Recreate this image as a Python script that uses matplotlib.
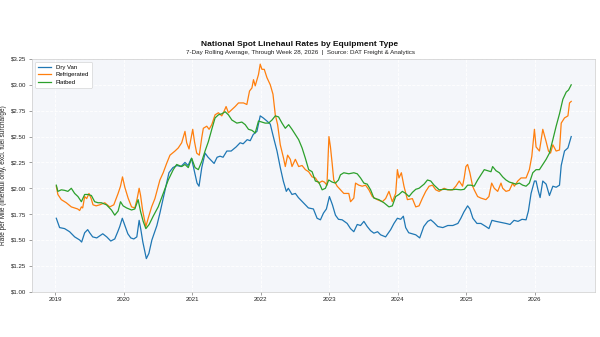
import numpy as np
import matplotlib
matplotlib.use("Agg")
import matplotlib.pyplot as plt

plt.rcParams['font.family'] = ['Liberation Sans', 'DejaVu Sans']

# ---- data (decimal-year offsets from 2019, $/mile) ----
van_t = [0.015, 0.063, 0.136, 0.209, 0.283, 0.356, 0.385, 0.429, 0.473, 0.502, 0.546, 0.605, 0.649, 0.693,
         0.751, 0.810, 0.868, 0.912, 0.941, 0.978, 1.015, 1.059, 1.102, 1.146, 1.190, 1.224, 1.249, 1.278,
         1.329, 1.366, 1.410, 1.483, 1.527, 1.571, 1.615, 1.659, 1.717, 1.776, 1.835, 1.893, 1.937, 1.988,
         2.025, 2.069, 2.098, 2.138, 2.186, 2.230, 2.274, 2.318, 2.362, 2.405, 2.449, 2.504, 2.567, 2.640,
         2.698, 2.742, 2.801, 2.845, 2.889, 2.943, 2.991, 3.035, 3.089, 3.138, 3.182, 3.236, 3.284, 3.328,
         3.372, 3.401, 3.455, 3.504, 3.548, 3.621, 3.694, 3.767, 3.821, 3.870, 3.914, 3.957, 4.001, 4.045,
         4.089, 4.133, 4.187, 4.260, 4.309, 4.357, 4.407, 4.455, 4.504, 4.553, 4.602, 4.650, 4.704, 4.748,
         4.821, 4.895, 4.943, 4.993, 5.041, 5.080, 5.114, 5.158, 5.261, 5.319, 5.378, 5.436, 5.480, 5.524,
         5.583, 5.656, 5.729, 5.802, 5.876, 5.919, 5.963, 6.018, 6.051, 6.095, 6.154, 6.212, 6.285, 6.329,
         6.373, 6.432, 6.505, 6.578, 6.637, 6.695, 6.754, 6.812, 6.871, 6.905, 6.944, 6.993, 7.017, 7.047,
         7.076, 7.115, 7.164, 7.212, 7.262, 7.310, 7.359, 7.384, 7.432, 7.482, 7.508, 7.530]
van_v = [1.71, 1.62, 1.61, 1.58, 1.53, 1.50, 1.48, 1.57, 1.60, 1.57, 1.53, 1.52, 1.54, 1.56,
         1.53, 1.49, 1.51, 1.58, 1.63, 1.71, 1.64, 1.56, 1.52, 1.51, 1.53, 1.69, 1.60, 1.48,
         1.32, 1.37, 1.50, 1.64, 1.76, 1.89, 2.02, 2.15, 2.20, 2.22, 2.21, 2.25, 2.22, 2.29,
         2.18, 2.05, 2.02, 2.20, 2.34, 2.30, 2.27, 2.24, 2.30, 2.31, 2.30, 2.36, 2.36, 2.40,
         2.44, 2.43, 2.47, 2.46, 2.52, 2.55, 2.70, 2.68, 2.65, 2.62, 2.50, 2.36, 2.20, 2.07,
         1.97, 2.00, 1.94, 1.95, 1.91, 1.86, 1.81, 1.80, 1.71, 1.695, 1.76, 1.80, 1.92, 1.84,
         1.74, 1.70, 1.695, 1.66, 1.61, 1.58, 1.65, 1.64, 1.68, 1.63, 1.59, 1.566, 1.58, 1.55,
         1.53, 1.60, 1.66, 1.71, 1.70, 1.73, 1.62, 1.57, 1.55, 1.52, 1.63, 1.68, 1.695, 1.67,
         1.63, 1.62, 1.64, 1.64, 1.66, 1.71, 1.77, 1.83, 1.80, 1.71, 1.66, 1.66, 1.63, 1.61,
         1.69, 1.68, 1.67, 1.66, 1.65, 1.69, 1.68, 1.70, 1.695, 1.78, 1.95, 2.07, 2.07, 1.98,
         1.91, 2.07, 2.04, 1.93, 2.02, 2.01, 2.03, 2.22, 2.36, 2.39, 2.45, 2.50]

reefer_t = [0.015, 0.038, 0.088, 0.161, 0.234, 0.283, 0.327, 0.356, 0.381, 0.400, 0.429, 0.458, 0.492,
            0.524, 0.551, 0.597, 0.649, 0.722, 0.795, 0.854, 0.917, 0.952, 0.981, 1.015, 1.063, 1.113,
            1.161, 1.195, 1.224, 1.245, 1.274, 1.322, 1.356, 1.406, 1.454, 1.502, 1.527, 1.575, 1.625,
            1.674, 1.747, 1.795, 1.845, 1.893, 1.918, 1.952, 2.006, 2.032, 2.064, 2.102, 2.138, 2.161,
            2.211, 2.245, 2.284, 2.332, 2.381, 2.430, 2.454, 2.493, 2.527, 2.577, 2.625, 2.674, 2.747,
            2.796, 2.835, 2.870, 2.893, 2.918, 2.966, 2.991, 3.016, 3.050, 3.089, 3.138, 3.177, 3.211,
            3.245, 3.284, 3.332, 3.357, 3.391, 3.430, 3.455, 3.504, 3.552, 3.602, 3.650, 3.698, 3.748,
            3.796, 3.845, 3.895, 3.928, 3.965, 3.994, 4.016, 4.041, 4.064, 4.114, 4.162, 4.211, 4.284,
            4.309, 4.357, 4.382, 4.430, 4.480, 4.529, 4.577, 4.627, 4.700, 4.773, 4.821, 4.870, 4.919,
            4.968, 4.993, 5.016, 5.051, 5.089, 5.139, 5.212, 5.261, 5.309, 5.359, 5.407, 5.456, 5.505,
            5.553, 5.602, 5.675, 5.725, 5.798, 5.846, 5.895, 5.944, 5.968, 5.993, 6.018, 6.051, 6.091,
            6.114, 6.164, 6.212, 6.285, 6.329, 6.369, 6.407, 6.457, 6.505, 6.530, 6.578, 6.627, 6.676,
            6.700, 6.750, 6.798, 6.871, 6.919, 6.955, 6.993, 7.017, 7.066, 7.115, 7.164, 7.198, 7.228,
            7.262, 7.310, 7.359, 7.384, 7.432, 7.482, 7.505, 7.530]
reefer_v = [2.02, 1.94, 1.89, 1.86, 1.82, 1.81, 1.80, 1.785, 1.82, 1.81, 1.92, 1.90, 1.95,
            1.90, 1.84, 1.83, 1.84, 1.86, 1.82, 1.84, 1.95, 2.02, 2.11, 2.01, 1.905, 1.82,
            1.81, 1.90, 2.00, 1.93, 1.79, 1.63, 1.71, 1.82, 1.90, 2.02, 2.08, 2.15, 2.24,
            2.32, 2.36, 2.39, 2.44, 2.55, 2.44, 2.38, 2.57, 2.45, 2.34, 2.32, 2.49, 2.58,
            2.60, 2.57, 2.615, 2.71, 2.73, 2.70, 2.73, 2.79, 2.73, 2.76, 2.79, 2.825, 2.825,
            2.81, 2.94, 2.97, 3.05, 2.99, 3.10, 3.20, 3.15, 3.15, 3.07, 3.00, 2.91, 2.71,
            2.615, 2.42, 2.29, 2.21, 2.32, 2.28, 2.21, 2.28, 2.21, 2.22, 2.18, 2.16, 2.11,
            2.10, 2.05, 2.07, 2.06, 2.03, 2.50, 2.40, 2.24, 2.08, 2.02, 1.985, 1.95, 1.95,
            1.87, 1.905, 2.05, 2.03, 2.02, 2.03, 1.985, 1.92, 1.89, 1.87, 1.90, 1.97, 1.87,
            1.95, 2.18, 2.10, 2.15, 2.02, 1.89, 1.90, 1.82, 1.83, 1.905, 1.97, 2.02, 2.03,
            1.985, 1.97, 2.00, 1.985, 1.985, 2.02, 2.07, 2.02, 2.10, 2.21, 2.23, 2.15, 2.02,
            1.985, 1.92, 1.905, 1.89, 1.92, 2.05, 2.00, 1.97, 2.05, 2.00, 1.97, 1.98, 2.05,
            2.02, 2.07, 2.10, 2.10, 2.18, 2.31, 2.57, 2.40, 2.36, 2.57, 2.45, 2.36, 2.34,
            2.42, 2.36, 2.37, 2.63, 2.68, 2.70, 2.825, 2.84]

flat_t = [0.015, 0.038, 0.088, 0.136, 0.184, 0.234, 0.283, 0.331, 0.381, 0.429, 0.477, 0.527, 0.575,
          0.624, 0.673, 0.747, 0.820, 0.868, 0.917, 0.952, 0.990, 1.040, 1.113, 1.161, 1.209, 1.245,
          1.283, 1.322, 1.370, 1.429, 1.502, 1.575, 1.649, 1.722, 1.772, 1.845, 1.893, 1.941, 1.991,
          2.040, 2.088, 2.138, 2.186, 2.234, 2.284, 2.332, 2.381, 2.430, 2.479, 2.527, 2.577, 2.650,
          2.723, 2.772, 2.820, 2.870, 2.918, 2.966, 3.016, 3.064, 3.113, 3.163, 3.211, 3.259, 3.309,
          3.357, 3.406, 3.455, 3.504, 3.552, 3.602, 3.650, 3.698, 3.748, 3.796, 3.845, 3.895, 3.943,
          3.991, 4.041, 4.089, 4.133, 4.162, 4.211, 4.284, 4.357, 4.407, 4.455, 4.504, 4.553, 4.602,
          4.650, 4.723, 4.797, 4.870, 4.919, 4.968, 5.016, 5.066, 5.114, 5.163, 5.212, 5.261, 5.309,
          5.383, 5.432, 5.480, 5.529, 5.602, 5.675, 5.773, 5.846, 5.919, 5.968, 6.018, 6.066, 6.114,
          6.164, 6.212, 6.261, 6.310, 6.359, 6.383, 6.432, 6.481, 6.530, 6.578, 6.627, 6.676, 6.725,
          6.773, 6.822, 6.871, 6.919, 6.969, 7.017, 7.066, 7.115, 7.164, 7.212, 7.262, 7.310, 7.359,
          7.408, 7.457, 7.491, 7.530]
flat_v = [2.03, 1.97, 1.985, 1.98, 1.97, 2.00, 1.95, 1.92, 1.87, 1.94, 1.94, 1.93, 1.87,
          1.86, 1.86, 1.84, 1.79, 1.74, 1.78, 1.87, 1.83, 1.81, 1.79, 1.80, 1.89, 1.775,
          1.68, 1.61, 1.65, 1.73, 1.82, 1.95, 2.08, 2.18, 2.23, 2.21, 2.23, 2.20, 2.29,
          2.20, 2.18, 2.26, 2.36, 2.45, 2.57, 2.68, 2.71, 2.72, 2.74, 2.71, 2.66, 2.63,
          2.64, 2.615, 2.57, 2.56, 2.535, 2.65, 2.64, 2.63, 2.63, 2.66, 2.70, 2.69, 2.63,
          2.58, 2.615, 2.57, 2.52, 2.47, 2.39, 2.29, 2.18, 2.16, 2.07, 2.06, 1.985, 2.00,
          2.08, 2.06, 2.05, 2.08, 2.13, 2.15, 2.14, 2.15, 2.14, 2.10, 2.05, 2.04, 1.985,
          1.905, 1.89, 1.86, 1.82, 1.83, 1.92, 1.94, 1.97, 1.95, 1.92, 1.96, 1.99, 2.00,
          2.04, 2.08, 2.07, 2.03, 1.985, 1.99, 1.985, 1.99, 1.985, 1.99, 2.03, 2.03, 2.02,
          2.08, 2.13, 2.18, 2.17, 2.16, 2.21, 2.17, 2.15, 2.11, 2.08, 2.06, 2.05, 2.04,
          2.05, 2.03, 2.02, 2.05, 2.15, 2.18, 2.18, 2.23, 2.28, 2.34, 2.47, 2.60, 2.72,
          2.86, 2.93, 2.95, 3.00]

base_year = 2019
series_names = ["Dry Van", "Refrigerated", "Flatbed"]
series_colors = ["#1f77b4", "#ff7f0e", "#2ca02c"]
year_ticks = [2019, 2020, 2021, 2022, 2023, 2024, 2025, 2026]
price_ticks = [1.00, 1.25, 1.50, 1.75, 2.00, 2.25, 2.50, 2.75, 3.00, 3.25]

fig = plt.figure(figsize=(6, 3.37), dpi=100)
ax = fig.add_axes([0.0533, 0.1344, 0.9387, 0.6906])
ax.set_facecolor("#f4f6fa")

for t, v, name, c in zip([van_t, reefer_t, flat_t], [van_v, reefer_v, flat_v], series_names, series_colors):
    ax.plot(base_year + np.array(t), v, color=c, lw=0.9, label=name)

ax.set_xlim(2018.66, 2026.88)
ax.set_ylim(1.0, 3.25)
ax.set_xticks(year_ticks)
ax.set_xticklabels([str(y) for y in year_ticks])
ax.set_yticks(price_ticks)
ax.set_yticklabels([f"${p:.2f}" for p in price_ticks])
ax.tick_params(labelsize=4.4, length=2, width=0.4, color="#555555", pad=2, labelcolor="#222222")
ax.grid(True, color="white", lw=0.6, ls="--")
for s in ax.spines.values():
    s.set_color("#cccccc")
    s.set_linewidth(0.5)

ax.set_ylabel("Rate per Mile (linehaul only, excl. fuel surcharge)", fontsize=4.7, labelpad=3, color="#222222")
fig.text(0.5, 0.868, "National Spot Linehaul Rates by Equipment Type", ha="center", va="center",
         fontsize=6.0, fontweight="bold", color="#111111")
fig.text(0.5, 0.845, "7-Day Rolling Average, Through Week 28, 2026  |  Source: DAT Freight & Analytics",
         ha="center", va="center", fontsize=4.5, color="#222222")

leg = ax.legend(loc="upper left", fontsize=4.3, frameon=True, framealpha=1.0, edgecolor="#cccccc",
                fancybox=True, handlelength=2.2, borderpad=0.5, labelspacing=0.35)
leg.get_frame().set_linewidth(0.4)

fig.savefig("out.png", dpi=100, facecolor="white")
